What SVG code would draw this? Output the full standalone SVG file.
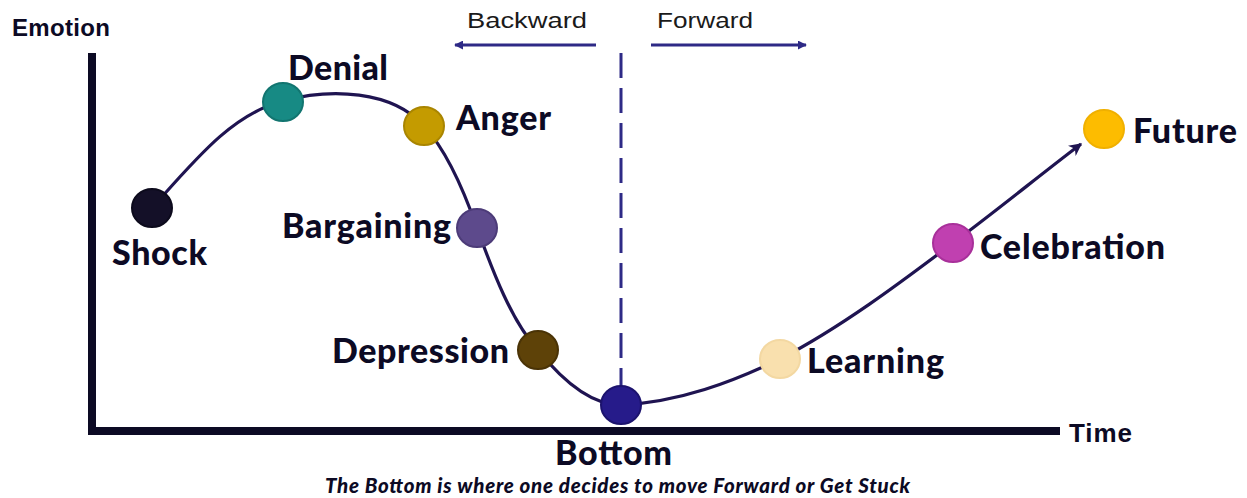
<svg xmlns="http://www.w3.org/2000/svg" width="1247" height="498" viewBox="0 0 1247 498">
  <style>
    .axis { stroke: #0c0a24; stroke-width: 8; fill: none; }
    .axis-label { font-family: "Liberation Sans", Arial, sans-serif; font-weight: bold; fill: #0c0a24; }
    .label { font-family: Lato, "Open Sans", sans-serif; font-weight: 900; font-size: 34px; fill: #0c0a24; }
    .hand { font-family: "Liberation Sans", Arial, sans-serif; font-size: 22px; fill: #1a1a1a; }
    .caption { font-family: Lato, "Open Sans", sans-serif; font-weight: 900; font-style: italic; font-size: 20.5px; fill: #0c0a24; }
    .curve { stroke: #1f1451; stroke-width: 3.2; fill: none; }
    .divider { stroke: #2e2a86; stroke-width: 3; stroke-dasharray: 25 10; fill: none; }
    .dir { stroke: #2e2a86; stroke-width: 3; fill: none; }
    .dot { stroke-width: 2; }
  </style>
  <defs>
    <marker id="curveHead" viewBox="0 0 10 10" refX="9" refY="5" markerWidth="4" markerHeight="4" orient="auto" markerUnits="strokeWidth">
      <path d="M0,0 L10,5 L0,10 L3,5 z" fill="#1f1451"/>
    </marker>
    <marker id="dirHead" viewBox="0 0 10 10" refX="9" refY="5" markerWidth="3" markerHeight="3" orient="auto" markerUnits="strokeWidth">
      <path d="M0,0 L10,5 L0,10 z" fill="#2e2a86"/>
    </marker>
  </defs>

  <rect width="1247" height="498" fill="#ffffff"/>

  <!-- axes -->
  <g id="axes">
    <path class="axis" d="M92,53 V431 H1060"/>
    <text class="axis-label" x="12" y="36" font-size="24" textLength="98">Emotion</text>
    <text class="axis-label" x="1069" y="442" font-size="26" textLength="63">Time</text>
  </g>

  <!-- connectors: emotion curve, decision divider and direction arrows -->
  <g id="connectors">
    <path class="curve" marker-end="url(#curveHead)"
      d="M152,208 C195,160 232,114 283,101 C330,88 392,90 424,126 C446,150 462,185 477,228 C493,272 512,322 538,350 C562,380 590,405 621,405 C680,402 732,382 780,359 C840,328 900,283 953,243 C1000,208 1040,175 1081,144"/>
    <line class="divider" x1="621" y1="53" x2="621" y2="388"/>
    <line class="dir" x1="596" y1="45" x2="455" y2="45" marker-end="url(#dirHead)"/>
    <line class="dir" x1="651" y1="45" x2="806" y2="45" marker-end="url(#dirHead)"/>
    <text class="hand" x="467" y="28" textLength="120" lengthAdjust="spacingAndGlyphs">Backward</text>
    <text class="hand" x="657" y="28" textLength="96" lengthAdjust="spacingAndGlyphs">Forward</text>
  </g>

  <g id="shock">
    <ellipse class="dot" cx="152" cy="208" rx="20" ry="19" fill="#141028" stroke="#0c0a1c"/>
    <text class="label" x="112" y="265" textLength="95">Shock</text>
  </g>
  <g id="denial">
    <ellipse class="dot" cx="283" cy="102" rx="20" ry="19" fill="#178a84" stroke="#127570"/>
    <text class="label" x="288" y="80" textLength="100">Denial</text>
  </g>
  <g id="anger">
    <ellipse class="dot" cx="424" cy="126" rx="20" ry="19" fill="#c49b00" stroke="#a98500"/>
    <text class="label" x="456" y="130" textLength="95">Anger</text>
  </g>
  <g id="bargaining">
    <ellipse class="dot" cx="477" cy="228" rx="20" ry="19" fill="#5d4a8c" stroke="#4c3b78"/>
    <text class="label" x="282" y="238" textLength="169">Bargaining</text>
  </g>
  <g id="depression">
    <ellipse class="dot" cx="538" cy="350" rx="20" ry="19" fill="#5e4208" stroke="#4a3306"/>
    <text class="label" x="332" y="363" textLength="177">Depression</text>
  </g>
  <g id="bottom">
    <ellipse class="dot" cx="621" cy="405" rx="20" ry="19" fill="#261b8a" stroke="#1c136e"/>
    <text class="label" x="555" y="465" textLength="117">Bottom</text>
    <text class="caption" x="325" y="493" textLength="585">The Bottom is where one decides to move Forward or Get Stuck</text>
  </g>
  <g id="learning">
    <ellipse class="dot" cx="780" cy="359" rx="20" ry="19" fill="#f9e0ae" stroke="#f3d8a2"/>
    <text class="label" x="807" y="373" textLength="137">Learning</text>
  </g>
  <g id="celebration">
    <ellipse class="dot" cx="953" cy="243" rx="20" ry="19" fill="#c040b0" stroke="#a8309a"/>
    <text class="label" x="980" y="259" textLength="185">Celebration</text>
  </g>
  <g id="future">
    <ellipse class="dot" cx="1104" cy="129" rx="20" ry="19" fill="#fdbc00" stroke="#f0b000"/>
    <text class="label" x="1133" y="143" textLength="104">Future</text>
  </g>
</svg>
